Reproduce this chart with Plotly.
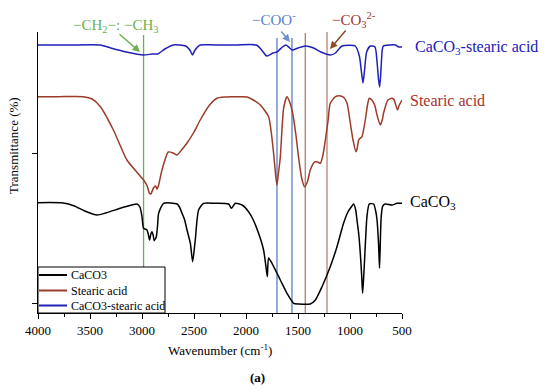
import plotly.graph_objects as go

# ---------------- data ----------------
caco3_wn = [4000, 3757, 3650, 3550, 3433, 3350, 3210, 3100, 3048, 3020, 3000, 2985, 2952, 2940,
            2927, 2915, 2904, 2893, 2882, 2872, 2862, 2850, 2840, 2792, 2663, 2640, 2615, 2590,
            2567, 2535, 2513, 2488, 2456, 2408, 2295, 2167, 2141, 2103, 2038, 1975, 1930, 1879,
            1831, 1808, 1795, 1783, 1750, 1670, 1606, 1542, 1494, 1382, 1333, 1269, 1190, 1125,
            1062, 1020, 997, 965, 945, 933, 915, 901, 888, 879, 870, 860, 848, 837, 815, 773,
            755, 740, 725, 716, 708, 700, 685, 660, 596, 548, 500]
caco3_t = [110.3, 110, 107, 102, 98, 100, 104.7, 108, 109, 106, 96.3, 84.7, 83, 79,
           73, 79, 81.3, 78, 72.3, 74, 76.3, 88, 99.7, 109.7, 109, 106, 99.7, 93,
           83, 69.7, 51.3, 73, 103, 109.7, 109.7, 109, 104.7, 109.7, 108, 101.3, 93, 79.7,
           63, 46.3, 36.3, 55, 49.7, 33, 19.7, 9.7, 9, 9, 13, 26.3, 46.3, 66.3,
           89.7, 101, 104.7, 109, 103, 93, 78, 59.7, 38, 19.7, 33, 53, 78, 96.3, 109, 109,
           103, 93, 68, 44.7, 73, 96.3, 107, 109, 108, 109.7, 109.7]

stearic_wn = [4000, 3800, 3565, 3480, 3400, 3275, 3145, 3050, 2985, 2950, 2930, 2915, 2890, 2870,
              2855, 2840, 2808, 2747, 2700, 2663, 2620, 2567, 2500, 2440, 2350, 2279, 2200, 2150,
              2050, 1990, 1930, 1862, 1783, 1760, 1735, 1715, 1703, 1690, 1670, 1638, 1606, 1580,
              1552, 1520, 1495, 1465, 1437, 1410, 1382, 1350, 1333, 1310, 1285, 1260, 1237, 1210,
              1190, 1140, 1090, 1062, 1029, 997, 971, 942, 930, 917, 900, 885, 870, 853, 830,
              815, 790, 763, 740, 709, 690, 677, 635, 596, 575, 565, 543, 530, 500]
stearic_t = [216.3, 216.3, 216.3, 214, 206.3, 183, 153, 141, 133, 127, 120, 119, 125, 127,
             124, 128, 143, 161, 160, 158, 163, 170, 181, 193, 208, 214.7, 216, 216.3,
             216.3, 216, 213, 208, 196.3, 183, 160, 138, 128, 138, 156, 205, 216.3, 211,
             200, 178, 156, 135, 126.3, 131, 143, 150, 151.3, 151, 149.7, 158, 173, 193,
             209.7, 216.3, 217, 215.7, 210, 190, 173, 161.3, 165, 173, 175, 176.3, 183, 193, 209,
             214.7, 213, 208, 198, 188, 193, 200, 213, 214.7, 213, 209.7, 203, 207, 213]

mix_wn = [4000, 3700, 3400, 3300, 3150, 2985, 2900, 2850, 2780, 2700, 2580, 2540, 2515, 2490,
          2440, 2300, 2100, 1900, 1850, 1800, 1740, 1702, 1650, 1615, 1580, 1555, 1500, 1430,
          1350, 1280, 1190, 1140, 1077, 950, 910, 890, 875, 860, 840, 805, 760, 740, 725, 715,
          705, 690, 680, 620, 565, 530, 500]
mix_t = [268, 268, 268, 265, 261, 258, 259, 259, 264, 268, 267, 263, 258, 263,
         268, 268, 268, 268, 263, 257, 260, 261, 266, 268, 265, 263, 265, 267,
         265, 261, 258, 260, 267, 267, 257, 241, 230, 243, 261, 267, 266, 251, 233, 226,
         238, 263, 267, 268, 268, 266, 266]

series_names = ["CaCO3", "Stearic acid", "CaCO3-stearic acid"]
series_colors = ["#000000", "#9C3B2A", "#2020B8"]

x_tick_vals = [4000, 3500, 3000, 2500, 2000, 1500, 1000, 500]
x_tick_text = ["4000", "3500", "3000", "2500", "2000", "1500", "1000", "500"]
y_tick_vals = [10, 160]

marker_wn = [2985, 1702, 1558, 1430, 1221]
marker_top = [278, 275, 275, 280, 281]
marker_colors = ["#6AB04C", "#5A7EC4", "#5A7EC4", "#A88272", "#B88275"]

# ---------------- figure ----------------
W, H = 550, 390
ML, MR, MT, MB = 38, 148, 32, 77
PW, PH = W - ML - MR, H - MT - MB
FONT = "Liberation Serif"


def pxx(px):
    return (px - ML) / PW


def pyy(py):
    return (H - MB - py) / PH


fig = go.Figure()

for wn, col, top in zip(marker_wn, marker_colors, marker_top):
    fig.add_shape(type="line", x0=wn, x1=wn, y0=0, y1=top, xref="x", yref="y",
                  line=dict(color=col, width=1.3), layer="below")

for wn, t, name, col in zip([caco3_wn, stearic_wn, mix_wn], [caco3_t, stearic_t, mix_t],
                            series_names, series_colors):
    fig.add_trace(go.Scatter(x=wn, y=t, mode="lines", name=name, showlegend=False,
                             line=dict(color=col, width=1.5, shape="spline", smoothing=0.6)))

ann = []
# side labels
ann.append(dict(text="CaCO<sub>3</sub>-stearic acid", x=pxx(413), y=pyy(47), xanchor="left",
                font=dict(color="#2020B8", size=16)))
ann.append(dict(text="Stearic acid", x=pxx(408), y=pyy(100), xanchor="left",
                font=dict(color="#A8322A", size=16)))
ann.append(dict(text="CaCO<sub>3</sub>", x=pxx(408), y=pyy(203), xanchor="left",
                font=dict(color="#000000", size=16)))
# top labels
ann.append(dict(text="\u2212CH<sub>2</sub>\u2212: \u2212CH<sub>3</sub>", x=pxx(115), y=pyy(26),
                font=dict(color="#6AB04C", size=15)))
ann.append(dict(text="\u2212COO<sup>-</sup>", x=pxx(274), y=pyy(19),
                font=dict(color="#5A7EC4", size=15)))
ann.append(dict(text="\u2212CO<sub>3</sub><sup>2-</sup>", x=pxx(354), y=pyy(20),
                font=dict(color="#A8322A", size=15)))
# axis titles and panel label
ann.append(dict(text="Transmittance (%)", x=pxx(13), y=pyy(146), textangle=-90,
                font=dict(color="#000000", size=13)))
ann.append(dict(text="Wavenumber (cm<sup>-1</sup>)", x=pxx(220), y=pyy(350),
                font=dict(color="#000000", size=13)))
ann.append(dict(text="<b>(a)</b>", x=pxx(257), y=pyy(377),
                font=dict(color="#000000", size=13)))

# manual legend (box, line samples, labels)
leg_left, leg_right, leg_top, leg_bottom = 38, 165, 267, 313
leg_rows = [275, 290.5, 305.5]
fig.add_shape(type="rect", xref="paper", yref="paper", x0=pxx(leg_left), x1=pxx(leg_right),
              y0=pyy(leg_bottom), y1=pyy(leg_top), fillcolor="white",
              line=dict(color="#000000", width=1), layer="above")
for name, col, ry in zip(series_names, series_colors, leg_rows):
    fig.add_shape(type="line", xref="paper", yref="paper", x0=pxx(39), x1=pxx(67),
                  y0=pyy(ry), y1=pyy(ry), line=dict(color=col, width=2), layer="above")
    ann.append(dict(text=name, x=pxx(69), y=pyy(ry), xanchor="left",
                    font=dict(color="#000000", size=12)))

for a in ann:
    a.update(xref="paper", yref="paper", showarrow=False)
    a.setdefault("xanchor", "center")
    a.setdefault("yanchor", "middle")

# arrows (tail -> tip), pixel offsets for the tail
arrows = [((118, 33), (140, 52), "#6AB04C"),
          ((280, 30), (290, 42), "#6F93CC"),
          ((347, 29), (330, 49), "#8B4A2A")]
for (tx, ty), (hx, hy), col in arrows:
    ann.append(dict(text="", xref="paper", yref="paper", axref="pixel", ayref="pixel",
                    x=pxx(hx), y=pyy(hy), ax=tx - hx, ay=ty - hy, showarrow=True,
                    arrowhead=2, arrowsize=1, arrowwidth=1.5, arrowcolor=col))

fig.update_layout(
    width=W, height=H,
    margin=dict(l=ML, r=MR, t=MT, b=MB, pad=0),
    paper_bgcolor="white", plot_bgcolor="white",
    font=dict(family=FONT, size=13, color="#000000"),
    annotations=ann,
    showlegend=False,
    xaxis=dict(range=[4000, 500], showgrid=False, zeroline=False, showline=True,
               linecolor="#000000", linewidth=1, ticks="outside", ticklen=5,
               tickcolor="#000000", tickvals=x_tick_vals, ticktext=x_tick_text,
               minor=dict(ticks="outside", ticklen=3, dtick=250, tickcolor="#000000"),
               tickfont=dict(size=13, family=FONT)),
    yaxis=dict(range=[0, PH], showgrid=False, zeroline=False, showline=True,
               linecolor="#000000", linewidth=1, ticks="outside", ticklen=5,
               tickcolor="#000000", tickvals=y_tick_vals, showticklabels=False),
)

fig.write_html("out.html", config={"displayModeBar": False},
               post_script="document.body.style.margin='0px';")
